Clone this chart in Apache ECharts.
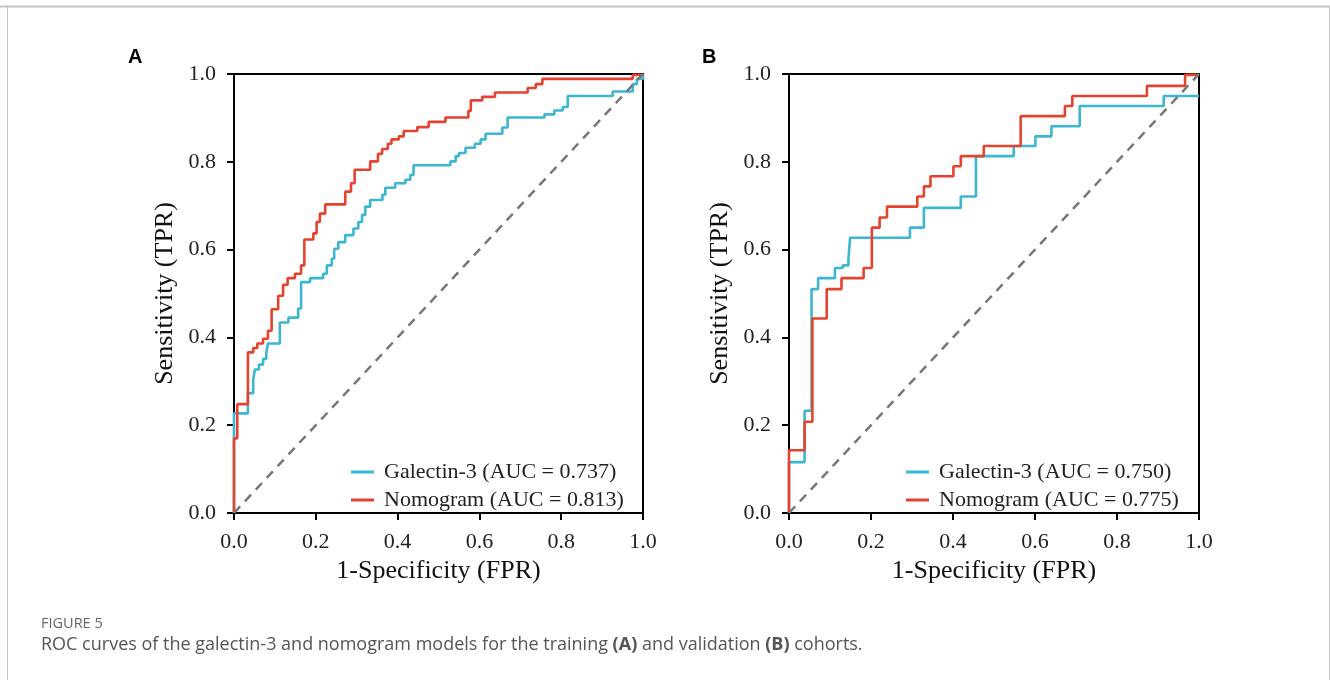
<!DOCTYPE html>
<html>
<head>
<meta charset="utf-8">
<script src="https://cdn.jsdelivr.net/npm/echarts@6/dist/echarts.min.js"></script>
<style>
html,body{margin:0;padding:0;background:#fff;}
#chart{width:1330px;height:680px;}
</style>
</head>
<body>
<div id="chart"></div>
<script>
// ---- Data ----
const tickValues = [0, 0.2, 0.4, 0.6, 0.8, 1.0];

// Panel A (training)
const fprA_gal = [0, 0, 0.034, 0.047, 0.051, 0.061, 0.071, 0.079, 0.083, 0.112, 0.133, 0.157, 0.164, 0.186, 0.218, 0.227, 0.239, 0.245, 0.255, 0.272, 0.292, 0.304, 0.313, 0.321, 0.333, 0.363, 0.370, 0.394, 0.419, 0.431, 0.439, 0.529, 0.542, 0.550, 0.566, 0.589, 0.603, 0.615, 0.656, 0.669, 0.759, 0.783, 0.804, 0.816, 0.926, 0.975, 0.985, 1.0];
const tprA_gal = [0, 0.227, 0.273, 0.304, 0.327, 0.338, 0.351, 0.366, 0.386, 0.434, 0.445, 0.466, 0.526, 0.535, 0.545, 0.564, 0.579, 0.602, 0.617, 0.633, 0.648, 0.663, 0.679, 0.698, 0.713, 0.725, 0.741, 0.751, 0.759, 0.770, 0.792, 0.801, 0.813, 0.820, 0.832, 0.841, 0.851, 0.864, 0.878, 0.901, 0.908, 0.917, 0.925, 0.950, 0.960, 0.977, 0.989, 1.0];
const fprA_nom = [0, 0, 0.008, 0.034, 0.047, 0.057, 0.071, 0.083, 0.092, 0.108, 0.120, 0.131, 0.149, 0.164, 0.172, 0.194, 0.202, 0.210, 0.223, 0.272, 0.286, 0.295, 0.333, 0.352, 0.362, 0.376, 0.385, 0.403, 0.415, 0.448, 0.476, 0.517, 0.573, 0.579, 0.607, 0.638, 0.718, 0.738, 0.754, 0.975, 1.0];
const tprA_nom = [0, 0.170, 0.248, 0.366, 0.376, 0.386, 0.397, 0.415, 0.464, 0.495, 0.520, 0.535, 0.545, 0.564, 0.623, 0.637, 0.663, 0.682, 0.703, 0.732, 0.751, 0.782, 0.801, 0.818, 0.829, 0.841, 0.851, 0.858, 0.870, 0.879, 0.891, 0.901, 0.916, 0.940, 0.948, 0.958, 0.968, 0.977, 0.989, 0.998, 0.998];

// Panel B (validation)
const fprB_gal = [0, 0, 0.038, 0.055, 0.071, 0.112, 0.131, 0.145, 0.149, 0.295, 0.329, 0.419, 0.456, 0.548, 0.601, 0.640, 0.709, 0.914, 1.0];
const tprB_gal = [0, 0.116, 0.233, 0.510, 0.535, 0.558, 0.564, 0.579, 0.627, 0.650, 0.695, 0.721, 0.813, 0.836, 0.858, 0.881, 0.927, 0.950, 0.950];
const fprB_nom = [0, 0, 0.038, 0.057, 0.092, 0.128, 0.182, 0.202, 0.221, 0.239, 0.313, 0.329, 0.345, 0.401, 0.419, 0.475, 0.565, 0.673, 0.691, 0.873, 0.966, 1.0];
const tprB_nom = [0, 0.143, 0.208, 0.443, 0.510, 0.535, 0.558, 0.650, 0.673, 0.698, 0.721, 0.744, 0.767, 0.790, 0.813, 0.836, 0.904, 0.927, 0.950, 0.973, 0.998, 0.998];

const diagX = [0, 1];
const diagY = [0, 1];

const namesA = ['Galectin-3 (AUC = 0.737)', 'Nomogram (AUC = 0.813)'];
const namesB = ['Galectin-3 (AUC = 0.750)', 'Nomogram (AUC = 0.775)'];
const panelLabels = ['A', 'B'];
const xTitle = '1-Specificity (FPR)';
const yTitle = 'Sensitivity (TPR)';
const captionHead = 'FIGURE 5';

// ---- Build ----
const zip = (xs, ys) => xs.map((x, i) => [x, ys[i]]);
const BLUE = '#3db6d1';
const RED = '#e5432f';
const SERIF = '"Liberation Serif", "Times New Roman", serif';

function xAx(gi) {
  return {
    gridIndex: gi, type: 'value', min: 0, max: 1, interval: 0.2,
    name: xTitle, nameLocation: 'middle', nameGap: 45,
    nameTextStyle: {fontFamily: SERIF, fontSize: 26, color: '#111'},
    axisLine: {show: true, lineStyle: {color: '#000', width: 2}},
    axisTick: {show: true, length: 7, lineStyle: {color: '#000', width: 2}},
    axisLabel: {fontFamily: SERIF, fontSize: 22, color: '#222', margin: 18, formatter: v => v.toFixed(1)},
    splitLine: {show: false}
  };
}
function yAx(gi) {
  return {
    gridIndex: gi, type: 'value', min: 0, max: 1, interval: 0.2,
    name: yTitle, nameLocation: 'middle', nameGap: 56,
    nameTextStyle: {fontFamily: SERIF, fontSize: 26, color: '#111'},
    axisLine: {show: true, lineStyle: {color: '#000', width: 2}},
    axisTick: {show: true, length: 7, lineStyle: {color: '#000', width: 2}},
    axisLabel: {fontFamily: SERIF, fontSize: 22, color: '#222', margin: 18, formatter: v => v.toFixed(1)},
    splitLine: {show: false}
  };
}
function roc(name, gi, data, color) {
  return {
    name, type: 'line', xAxisIndex: gi, yAxisIndex: gi, data,
    step: 'end', showSymbol: false, symbol: 'none', silent: true,
    lineStyle: {color, width: 2.6}, itemStyle: {color}
  };
}
function diag(gi) {
  return {
    type: 'line', xAxisIndex: gi, yAxisIndex: gi, data: zip(diagX, diagY),
    showSymbol: false, symbol: 'none', silent: true,
    lineStyle: {color: '#777', width: 2.5, type: [9, 7]}
  };
}
function legend(left, names) {
  return {
    left, top: 456, orient: 'vertical', data: names,
    icon: 'rect', itemWidth: 23, itemHeight: 3, itemGap: 6,
    textStyle: {fontFamily: SERIF, fontSize: 22, color: '#222', padding: [0, 0, 0, 5]}
  };
}

const option = {
  animation: false,
  backgroundColor: '#fff',
  grid: [
    {left: 234, top: 74, width: 409, height: 439, show: true, borderColor: '#000', borderWidth: 2},
    {left: 789, top: 74, width: 410, height: 439, show: true, borderColor: '#000', borderWidth: 2}
  ],
  xAxis: [xAx(0), xAx(1)],
  yAxis: [yAx(0), yAx(1)],
  legend: [legend(346, namesA), legend(901, namesB)],
  title: [
    {text: panelLabels[0], left: 123, top: 42, textStyle: {fontFamily: '"Liberation Sans", Arial, sans-serif', fontWeight: 'bold', fontSize: 20, color: '#000'}},
    {text: panelLabels[1], left: 697, top: 42, textStyle: {fontFamily: '"Liberation Sans", Arial, sans-serif', fontWeight: 'bold', fontSize: 20, color: '#000'}},
    {text: captionHead, left: 36, top: 611, textStyle: {fontFamily: '"Open Sans", sans-serif', fontWeight: 'normal', fontSize: 14.5, color: '#666'}},
    {
      text: '{n|ROC curves of the galectin-3 and nomogram models for the training }{b|(A)}{n| and validation }{b|(B)}{n| cohorts.}',
      left: 36, top: 631,
      textStyle: {
        fontWeight: 'normal',
        rich: {
          n: {fontFamily: '"Open Sans", sans-serif', fontSize: 18, color: '#555', fontWeight: 'normal'},
          b: {fontFamily: '"Open Sans", sans-serif', fontSize: 18, color: '#555', fontWeight: 'bold'}
        }
      }
    }
  ],
  graphic: [
    {type: 'line', shape: {x1: 0, y1: 6.5, x2: 1330, y2: 6.5}, style: {stroke: '#c4c4c4', lineWidth: 2}, silent: true},
    {type: 'line', shape: {x1: 7.5, y1: 6, x2: 7.5, y2: 680}, style: {stroke: '#c4c4c4', lineWidth: 1}, silent: true},
    {type: 'line', shape: {x1: 1329.5, y1: 6, x2: 1329.5, y2: 680}, style: {stroke: '#c4c4c4', lineWidth: 1}, silent: true}
  ],
  series: [
    roc(namesA[0], 0, zip(fprA_gal, tprA_gal), BLUE),
    roc(namesA[1], 0, zip(fprA_nom, tprA_nom), RED),
    diag(0),
    roc(namesB[0], 1, zip(fprB_gal, tprB_gal), BLUE),
    roc(namesB[1], 1, zip(fprB_nom, tprB_nom), RED),
    diag(1)
  ]
};

const chart = echarts.init(document.getElementById('chart'), null, {renderer: 'canvas'});
chart.setOption(option);
</script>
</body>
</html>
